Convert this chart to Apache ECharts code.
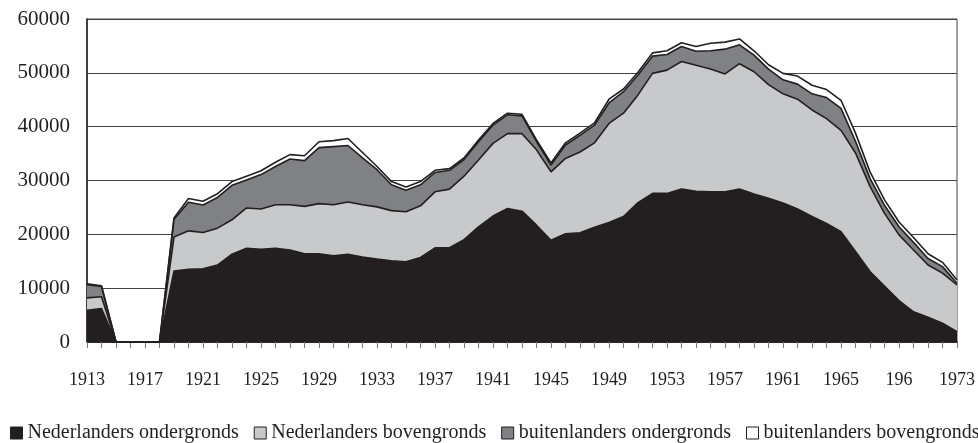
<!DOCTYPE html>
<html>
<head>
<meta charset="utf-8">
<script src="https://cdn.jsdelivr.net/npm/echarts@6/dist/echarts.min.js"></script>
<style>
  html, body { margin: 0; padding: 0; background: #fff; }
  #chart { width: 978px; height: 443px; }
</style>
</head>
<body>
<div id="chart"></div>
<script>
// years on the x axis
const years = [
  '1913', '1914', '1915', '1916', '1917', '1918', '1919', '1920', '1921', '1922',
  '1923', '1924', '1925', '1926', '1927', '1928', '1929', '1930', '1931', '1932',
  '1933', '1934', '1935', '1936', '1937', '1938', '1939', '1940', '1941', '1942',
  '1943', '1944', '1945', '1946', '1947', '1948', '1949', '1950', '1951', '1952',
  '1953', '1954', '1955', '1956', '1957', '1958', '1959', '1960', '1961', '1962',
  '1963', '1964', '1965', '1966', '1967', '1968', '1969', '1970', '1971', '1972',
  '1973'
]

// labels shown every fourth year (the original prints "196" for 1969)
const yearLabels = [
  '1913', '1917', '1921', '1925', '1929', '1933', '1937', '1941',
  '1945', '1949', '1953', '1957', '1961', '1965', '196', '1973'
]

const seriesNames = [
  'Nederlanders ondergronds',
  'Nederlanders bovengronds',
  'buitenlanders ondergronds',
  'buitenlanders bovengronds'
]

const nlOnder = [
  5900, 6200, 0, 0, 0, 0, 13200, 13500, 13600, 14300,
  16300, 17400, 17200, 17400, 17100, 16400, 16400, 16000, 16300, 15800,
  15400, 15100, 14900, 15700, 17500, 17500, 19000, 21400, 23400, 24800,
  24300, 21700, 18900, 20100, 20300, 21300, 22200, 23300, 25900, 27600,
  27600, 28400, 28000, 27900, 27900, 28400, 27500, 26700, 25800, 24700,
  23300, 22000, 20500, 16800, 13100, 10400, 7700, 5600, 4600, 3500,
  1900
]

const nlBoven = [
  2300, 2200, 0, 0, 0, 0, 6300, 7150, 6750, 6850,
  6400, 7500, 7500, 8100, 8400, 8800, 9300, 9500, 9700, 9700,
  9700, 9300, 9300, 9600, 10400, 10900, 11800, 12400, 13500, 13900,
  14400, 14000, 12700, 14000, 15000, 15700, 18400, 19200, 20000, 22300,
  22900, 23700, 23400, 22800, 21900, 23300, 22700, 21100, 20300, 20400,
  19800, 19500, 18800, 18300, 15800, 13500, 12200, 11500, 9700, 9300,
  8700
]

const buOnder = [
  2450, 1900, 0, 0, 0, 0, 3300, 5300, 5100, 5700,
  6400, 5200, 6400, 7100, 8500, 8500, 10400, 10800, 10500, 8700,
  6900, 4800, 4000, 3900, 3600, 3500, 3100, 3400, 3400, 3500,
  3300, 1550, 1250, 2500, 3100, 3300, 3800, 4000, 3700, 3200,
  2900, 2800, 2600, 3400, 4600, 3500, 3100, 2900, 2600, 2800,
  3000, 3900, 4100, 2200, 1500, 1500, 1500, 1400, 1200, 1200,
  300
]

const buBoven = [
  150, 150, 0, 0, 0, 0, 250, 700, 700, 700,
  700, 700, 700, 800, 800, 900, 1100, 1100, 1300, 1000,
  600, 600, 600, 600, 400, 300, 300, 300, 300, 300,
  300, 300, 400, 400, 400, 400, 700, 500, 500, 600,
  700, 700, 900, 1400, 1300, 1100, 800, 800, 1200, 1500,
  1600, 1500, 1500, 1500, 1200, 1000, 900, 900, 900, 800,
  600
]

const fills = ['#231f20', '#c8c9ca', '#808184', '#ffffff']
const ink = '#231f20'
const serif = "'Liberation Serif', 'DejaVu Serif', serif"

const chart = echarts.init(document.getElementById('chart'), null, { renderer: 'canvas' })

const makeSeries = (name, data, fill) => ({
  name,
  type: 'line',
  stack: 'total',
  data,
  showSymbol: false,
  symbol: 'none',
  lineStyle: { color: ink, width: 1.6 },
  itemStyle: { color: fill },
  areaStyle: { color: fill, opacity: 1 },
  emphasis: { disabled: true }
})

chart.setOption({
  animation: false,
  textStyle: { fontFamily: serif, color: ink },
  grid: {
    left: 87,
    right: 21,
    top: 19,
    bottom: 101,
    show: true,
    borderColor: '#444',
    borderWidth: 1
  },
  legend: {
    left: 5,
    top: 418,
    width: 1400,
    icon: 'rect',
    itemWidth: 12,
    itemHeight: 12,
    itemGap: 15,
    textStyle: { fontFamily: serif, fontSize: 20, color: ink },
    data: seriesNames.map((name, i) => ({
      name,
      itemStyle: { color: fills[i], borderColor: ink, borderWidth: 1 }
    }))
  },
  xAxis: {
    type: 'category',
    data: years,
    boundaryGap: false,
    axisLine: { lineStyle: { color: ink, width: 1.5 } },
    axisTick: {
      interval: 0,
      length: 6,
      lineStyle: { color: '#777' }
    },
    axisLabel: {
      interval: 3,
      margin: 29,
      fontSize: 18,
      fontFamily: serif,
      color: ink,
      formatter: (v, i) => yearLabels[i / 4]
    }
  },
  yAxis: {
    type: 'value',
    min: 0,
    max: 60000,
    interval: 10000,
    axisLine: { show: true, lineStyle: { color: ink, width: 1.5 } },
    axisTick: { show: false },
    splitLine: { lineStyle: { color: '#444', width: 1 } },
    axisLabel: {
      margin: 17,
      fontSize: 21,
      fontFamily: serif,
      color: ink,
      formatter: (v) => String(v)
    }
  },
  series: [
    makeSeries(seriesNames[0], nlOnder, fills[0]),
    makeSeries(seriesNames[1], nlBoven, fills[1]),
    makeSeries(seriesNames[2], buOnder, fills[2]),
    makeSeries(seriesNames[3], buBoven, fills[3])
  ]
})
</script>
</body>
</html>
